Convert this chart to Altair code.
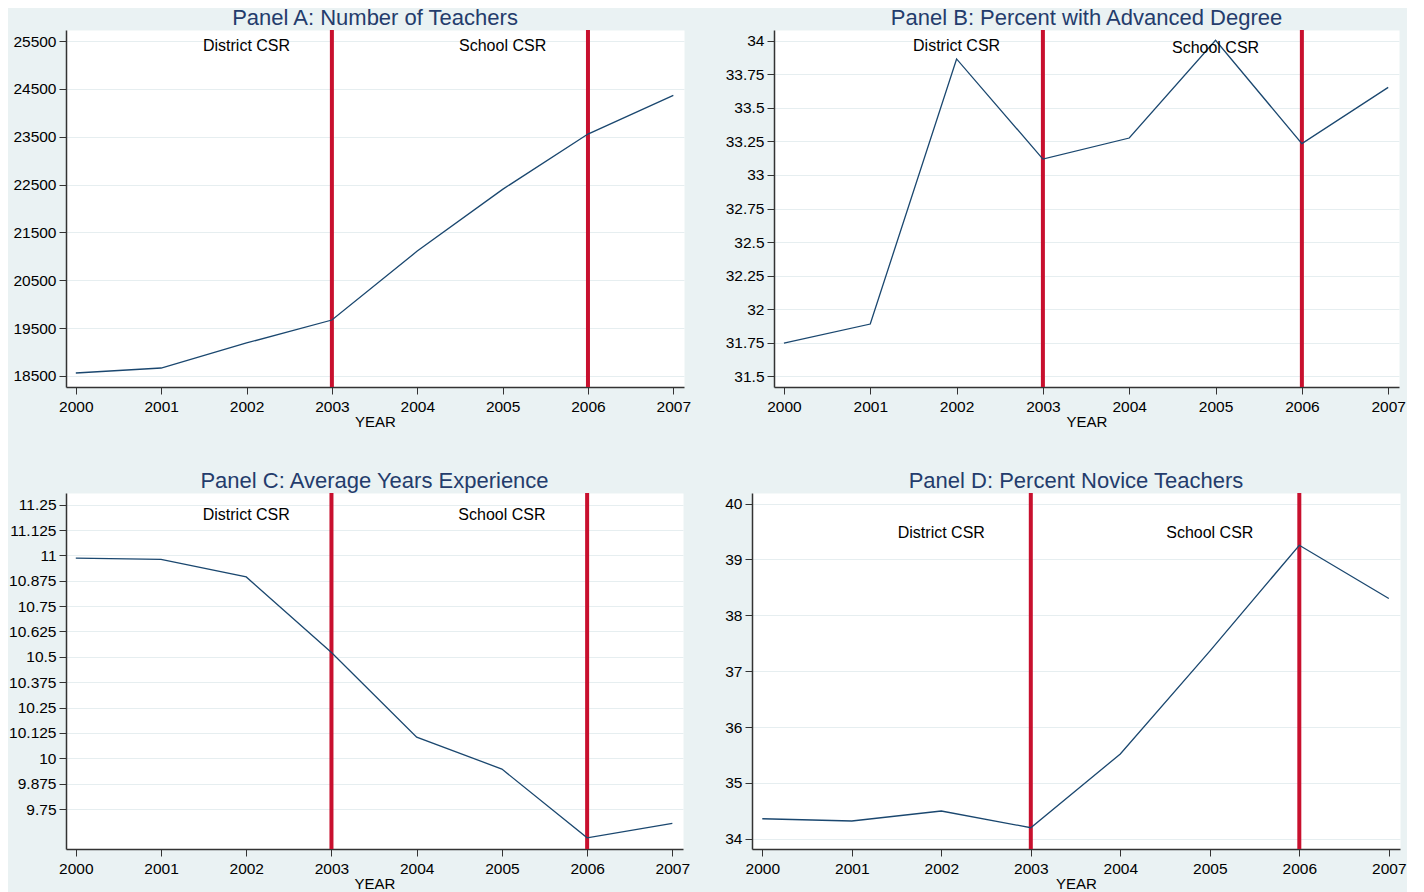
import altair as alt
import pandas as pd

# ---------------- data ----------------
years = [2000, 2001, 2002, 2003, 2004, 2005, 2006, 2007]
teachers = [18563, 18667, 19190, 19670, 21110, 22400, 23556, 24365]
advanced_degree = [31.746, 31.888, 33.866, 33.119, 33.276, 34.005, 33.234, 33.654]
experience = [10.987, 10.980, 10.894, 10.521, 10.104, 9.947, 9.608, 9.679]
novice = [34.358, 34.317, 34.496, 34.197, 35.517, 37.36, 39.255, 38.30]

policy_years = [2003, 2006]
policy_labels = ["District CSR", "School CSR"]
label_years = [2002, 2005]

titles = [
    "Panel A: Number of Teachers",
    "Panel B: Percent with Advanced Degree",
    "Panel C: Average Years Experience",
    "Panel D: Percent Novice Teachers",
]

ticks_a = [18500, 19500, 20500, 21500, 22500, 23500, 24500, 25500]
ticks_b = [31.5, 31.75, 32, 32.25, 32.5, 32.75, 33, 33.25, 33.5, 33.75, 34]
ticks_c = [9.75, 9.875, 10, 10.125, 10.25, 10.375, 10.5, 10.625, 10.75,
           10.875, 11, 11.125, 11.25]
ticks_d = [34, 35, 36, 37, 38, 39, 40]

label_y_a = [25400, 25400]
label_y_b = [33.965, 33.945]
label_y_c = [11.2, 11.2]
label_y_d = [39.48, 39.48]

# ---------------- styling ----------------
FONT = "Liberation Sans"
NAVY = "#1A476F"
RED = "#C8102E"
TITLE_COLOR = "#243C6C"
BG = "#EAF2F3"
X_DOMAIN = [1999.885, 2007.125]


def panel(title, values, y_dom, y_ticks, lab_y, w, h):
    line_df = pd.DataFrame({"YEAR": years, "value": values})
    rule_df = pd.DataFrame({"YEAR": policy_years})
    text_df = pd.DataFrame({"YEAR": label_years, "value": lab_y, "label": policy_labels})

    x = alt.X(
        "YEAR:Q",
        scale=alt.Scale(domain=X_DOMAIN, nice=False, zero=False),
        axis=alt.Axis(values=years, labelExpr="datum.value + ''", title="YEAR",
                      grid=False, labelFlush=False),
    )
    y = alt.Y(
        "value:Q",
        scale=alt.Scale(domain=y_dom, nice=False, zero=False),
        axis=alt.Axis(values=y_ticks, labelExpr="datum.value + ''", title=None,
                      grid=True, labelFlush=False),
    )
    rules = alt.Chart(rule_df).mark_rule(color=RED, strokeWidth=4).encode(x=x)
    line = alt.Chart(line_df).mark_line(color=NAVY, strokeWidth=1.3).encode(x=x, y=y)
    text = alt.Chart(text_df).mark_text(
        font=FONT, fontSize=16, color="black", baseline="middle", align="center"
    ).encode(x=x, y=y, text="label:N")
    return alt.layer(rules, line, text).properties(
        width=w, height=h, title=alt.TitleParams(title)
    )


pa = panel(titles[0], teachers, [18270, 25730], ticks_a, label_y_a, 618, 357)
pb = panel(titles[1], advanced_degree, [31.418, 34.082], ticks_b, label_y_b, 625, 357)
pc = panel(titles[2], experience, [9.553, 11.3076], ticks_c, label_y_c, 617, 356)
pd_ = panel(titles[3], novice, [33.816, 40.19], ticks_d, label_y_d, 648, 356)

chart = (
    alt.concat(pa, pb, pc, pd_, columns=2, align="none",
               spacing={"row": 39, "column": 32})
    .properties(background=BG, padding={"left": 0, "top": -2, "right": 0, "bottom": 0})
    .configure_view(fill="white", stroke="transparent")
    .configure_axis(
        labelFont=FONT, labelFontSize=15.5, labelColor="black",
        titleFont=FONT, titleFontSize=15, titleFontWeight="normal", titleColor="black",
        domainColor="#333333", domainWidth=1.5,
        tickColor="#333333", tickSize=7, tickWidth=1,
        gridColor="#E6EEF0", gridWidth=1,
    )
    .configure_axisX(labelPadding=5, titlePadding=0)
    .configure_axisY(labelPadding=3)
    .configure_title(
        font=FONT, fontSize=22, color=TITLE_COLOR, fontWeight="normal",
        anchor="middle", frame="group", offset=-2, baseline="alphabetic",
    )
)

chart.save("out.html", embed_options={"renderer": "svg", "actions": False})
